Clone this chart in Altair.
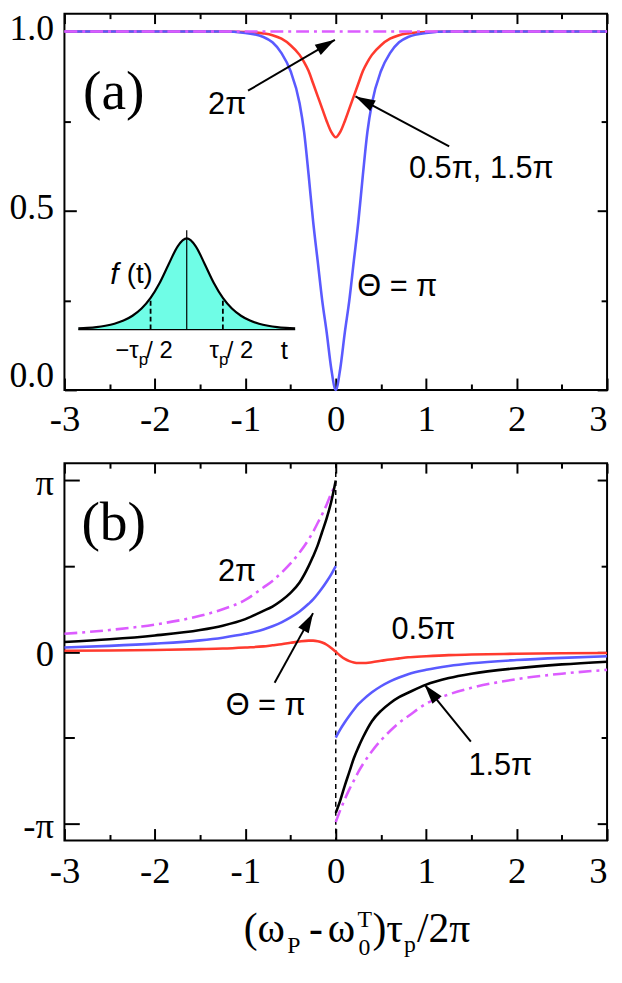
import math
import altair as alt
import pandas as pd

PI = math.pi

# ---------------- panel (a) data ----------------
xa = [-3.0, -2.5, -2.0, -1.5, -1.25, -1.0, -0.8, -0.7, -0.6, -0.5, -0.4, -0.35, -0.3, -0.25, -0.2, -0.15, -0.1, -0.05,
      0.0, 0.05, 0.1, 0.15, 0.2, 0.25, 0.3, 0.35, 0.4, 0.5, 0.6, 0.7, 0.8, 1.0, 1.25, 1.5, 2.0, 2.5, 3.0]
blue_a = [1.0, 1.0, 1.0, 1.0, 1.0, 0.996, 0.985, 0.97, 0.94, 0.89, 0.80, 0.72, 0.60, 0.47, 0.36, 0.25, 0.16, 0.06,
          0.0, 0.06, 0.16, 0.25, 0.36, 0.47, 0.60, 0.72, 0.80, 0.89, 0.94, 0.97, 0.985, 0.996, 1.0, 1.0, 1.0, 1.0, 1.0]
red_a = [1.0, 1.0, 1.0, 1.0, 1.0, 0.999, 0.995, 0.99, 0.98, 0.962, 0.935, 0.915, 0.89, 0.855, 0.82, 0.785, 0.75, 0.72,
         0.705, 0.72, 0.75, 0.785, 0.82, 0.855, 0.89, 0.915, 0.935, 0.962, 0.98, 0.99, 0.995, 0.999, 1.0, 1.0, 1.0, 1.0, 1.0]
xa_mag = [-3.0, 3.0]
mag_a = [1.0, 1.0]

# inset pulse f(t)
t_in = [-3.0, -2.75, -2.5, -2.25, -2.0, -1.75, -1.5, -1.25, -1.0, -0.75, -0.5, -0.25, 0.0,
        0.25, 0.5, 0.75, 1.0, 1.25, 1.5, 1.75, 2.0, 2.25, 2.5, 2.75, 3.0]
f_in = [0.012, 0.018, 0.027, 0.042, 0.064, 0.098, 0.151, 0.230, 0.347, 0.511, 0.717, 0.914, 1.0,
        0.914, 0.717, 0.511, 0.347, 0.230, 0.151, 0.098, 0.064, 0.042, 0.027, 0.018, 0.012]
t_dash = [-1.0, 1.0]
f_dash = [0.347, 0.347]
t_center = [0.0]
f_center = [1.09]

# ---------------- panel (b) data ----------------
xb_left = [-3.0, -2.5, -2.0, -1.5, -1.25, -1.0, -0.8, -0.7, -0.6, -0.5, -0.4, -0.3, -0.25, -0.2, -0.15, -0.1, -0.05, 0.0]
xb_right = [0.0, 0.05, 0.1, 0.15, 0.2, 0.25, 0.3, 0.4, 0.5, 0.6, 0.7, 0.8, 1.0, 1.25, 1.5, 2.0, 2.5, 3.0]
black_left = [0.18, 0.23, 0.30, 0.40, 0.48, 0.60, 0.75, 0.83, 0.94, 1.08, 1.27, 1.57, 1.75, 1.95, 2.20, 2.45, 2.75, 3.14]
black_right = [-2.95, -2.72, -2.45, -2.20, -1.95, -1.75, -1.57, -1.27, -1.08, -0.94, -0.83, -0.75, -0.60, -0.48, -0.40, -0.30, -0.23, -0.18]
blue_left = [0.08, 0.11, 0.15, 0.21, 0.26, 0.33, 0.41, 0.47, 0.54, 0.63, 0.74, 0.88, 0.96, 1.06, 1.17, 1.29, 1.42, 1.57]
blue_right = [-1.57, -1.42, -1.29, -1.17, -1.06, -0.96, -0.88, -0.74, -0.63, -0.54, -0.47, -0.41, -0.33, -0.26, -0.21, -0.15, -0.11, -0.08]
mag_left = [0.33, 0.40, 0.50, 0.66, 0.78, 0.95, 1.18, 1.30, 1.45, 1.62, 1.82, 2.06, 2.20, 2.36, 2.52, 2.70, 2.90, 3.07]
mag_right = [-3.12, -2.90, -2.70, -2.52, -2.36, -2.20, -2.06, -1.82, -1.62, -1.45, -1.30, -1.18, -0.95, -0.78, -0.66, -0.50, -0.40, -0.33]
xb_red = [-3.0, -2.5, -2.0, -1.5, -1.25, -1.0, -0.8, -0.7, -0.6, -0.5, -0.4, -0.3, -0.25, -0.2, -0.15, -0.1, -0.05, 0.0,
          0.05, 0.1, 0.15, 0.2, 0.25, 0.3, 0.4, 0.5, 0.6, 0.7, 0.8, 1.0, 1.25, 1.5, 2.0, 2.5, 3.0]
red_b = [0.02, 0.025, 0.035, 0.05, 0.06, 0.08, 0.10, 0.12, 0.14, 0.165, 0.19, 0.205, 0.205, 0.195, 0.17, 0.13, 0.07, 0.0,
         -0.07, -0.13, -0.17, -0.195, -0.205, -0.205, -0.19, -0.165, -0.14, -0.12, -0.10, -0.08, -0.06, -0.05, -0.035, -0.025, -0.02]

# annotations (data coordinates)
lab_a_x = [-1.2, 1.61, 0.68]
lab_a_y = [0.794, 0.617, 0.288]
lab_a_t = ["2π", "0.5π, 1.5π", "Θ = π"]
arr_a_tail = [(-0.97, 0.835), (1.254, 0.680)]
arr_a_head = [(-0.01, 0.977), (0.218, 0.819)]

lab_b_x = [-1.09, -0.775, 0.97, 1.82]
lab_b_y = [1.463, -0.996, 0.404, -2.09]
lab_b_t = ["2π", "Θ = π", "0.5π", "1.5π"]
arr_b_tail = [(-0.676, -0.566), (1.494, -1.643)]
arr_b_head = [(-0.251, 0.709), (0.982, -0.601)]

# ---------------- style ----------------
W, HA, HB = 548, 380, 381
XD = [-3, 3]
YA = [0, 1.05]
YB = [-1.1 * PI, 1.1 * PI]
SERIF = "Liberation Serif"
SANS = "Liberation Sans"
BLUE = "#5a5aff"
RED = "#ff3a2e"
MAG = "#dc5cff"
FILL = "#6ffde6"
HEAD = "M0,0L-0.6,2L0.6,2Z"
TICKFS = 36

xmaj = [-3, -2, -1, 0, 1, 2, 3]
xmin = [-2.5, -1.5, -0.5, 0.5, 1.5, 2.5]


def tick_axis(orient, values, size, labels=False, **kw):
    args = dict(orient=orient, values=values, tickSize=size, offset=-size, domain=False, grid=False,
                labels=labels, title=None, ticks=True, tickColor="black", tickWidth=2)
    if labels:
        args.update(kw)
    return alt.Axis(**args)


xlab_expr = "datum.value < 0 ? '-' + abs(datum.value) : '' + datum.value"
xlab_align = {"condition": {"test": "datum.value >= 3", "value": "right"}, "value": "center"}


def frame_layers(ydom, ymaj, ymin_, ymin_len):
    dd = pd.DataFrame({"x": XD, "y": ydom})
    base = alt.Chart(dd).mark_point(opacity=0, size=0)
    xsc = alt.Scale(domain=XD, nice=False, zero=False)
    ysc = alt.Scale(domain=ydom, nice=False, zero=False)
    l1 = base.encode(x=alt.X("x:Q", scale=xsc, axis=tick_axis("bottom", xmin, 6)),
                     y=alt.Y("y:Q", scale=ysc, axis=tick_axis("left", ymin_, ymin_len)))
    l2 = base.encode(x=alt.X("x:Q", scale=xsc, axis=tick_axis("top", xmaj, 10)),
                     y=alt.Y("y:Q", scale=ysc, axis=tick_axis("right", ymaj, 10)))
    l3 = base.encode(x=alt.X("x:Q", scale=xsc, axis=tick_axis("top", xmin, 5)),
                     y=alt.Y("y:Q", scale=ysc, axis=tick_axis("right", ymin_, 6)))
    return [l1, l2, l3]


def arrow_layers(tails, heads, X, Y, pxu, pyu):
    rows = []
    hrows = []
    for i, ((tx, ty), (hx, hy)) in enumerate(zip(tails, heads)):
        rows.append({"x": tx, "y": ty, "id": i})
        rows.append({"x": hx, "y": hy, "id": i})
        ang = math.degrees(math.atan2((hx - tx) * pxu, (hy - ty) * pyu)) % 360
        hrows.append({"x": hx, "y": hy, "ang": ang})
    shaft = alt.Chart(pd.DataFrame(rows)).mark_line(color="black", strokeWidth=2).encode(
        x=X("x"), y=Y("y"), detail="id:N")
    head = alt.Chart(pd.DataFrame(hrows)).mark_point(
        shape=HEAD, filled=True, color="black", opacity=1, size=400, strokeWidth=0).encode(
        x=X("x"), y=Y("y"), angle=alt.Angle("ang:Q", scale=None))
    return [shaft, head]


# ================= panel (a) =================
xsa = alt.Scale(domain=XD, nice=False, zero=False)
ysa = alt.Scale(domain=YA, nice=False, zero=False)
axa_x = tick_axis("bottom", xmaj, 12, labels=True, labelFont=SERIF, labelFontSize=TICKFS + 1, labelPadding=12,
                  labelExpr=xlab_expr, labelColor="black", labelFlush=False, labelAlign=xlab_align)
axa_y = tick_axis("left", [0, 0.5, 1.0], 12, labels=True, labelFont=SERIF, labelFontSize=TICKFS, labelPadding=11,
                  format=".1f", labelColor="black", labelOffset=-3,
                  labelBaseline={"condition": {"test": "datum.value == 0", "value": "alphabetic"}, "value": "middle"})


def XA(f):
    return alt.X(f"{f}:Q", scale=xsa, axis=axa_x)


def YA_(f):
    return alt.Y(f"{f}:Q", scale=ysa, axis=axa_y)


df_red_a = pd.DataFrame({"x": xa, "y": red_a})
df_blue_a = pd.DataFrame({"x": xa, "y": blue_a})
df_mag_a = pd.DataFrame({"x": xa_mag, "y": mag_a})

red_line_a = alt.Chart(df_red_a).mark_line(color=RED, strokeWidth=2.6, interpolate="monotone").encode(x=XA("x"), y=YA_("y"))
blue_line_a = alt.Chart(df_blue_a).mark_line(color=BLUE, strokeWidth=2.6, interpolate="monotone").encode(x=XA("x"), y=YA_("y"))
mag_line_a = alt.Chart(df_mag_a).mark_line(color=MAG, strokeWidth=2.6, strokeDash=[13, 5, 3, 5]).encode(x=XA("x"), y=YA_("y"))

panel_tag_a = alt.Chart(pd.DataFrame({"x": [-2.455], "y": [0.83], "t": ["(a)"]})).mark_text(
    font=SERIF, fontSize=56, color="black").encode(x=XA("x"), y=YA_("y"), text="t:N")
labels_a = alt.Chart(pd.DataFrame({"x": lab_a_x, "y": lab_a_y, "t": lab_a_t})).mark_text(
    font=SANS, fontSize=31, color="black").encode(x=XA("x"), y=YA_("y"), text="t:N")

core_a = alt.layer(red_line_a, blue_line_a, mag_line_a, panel_tag_a, labels_a,
                   *arrow_layers(arr_a_tail, arr_a_head, XA, YA_, W / 6, HA / 1.05))

# inset with its own scales
xin = alt.Scale(domain=[-3, 3], range=[14, 233], nice=False, zero=False)
yin = alt.Scale(domain=[0, 1], range=[319, 227], nice=False, zero=False)


def XI(f):
    return alt.X(f"{f}:Q", scale=xin, axis=None)


def YI(f):
    return alt.Y(f"{f}:Q", scale=yin, axis=None)


df_in = pd.DataFrame({"t": t_in, "f": f_in})
inset_area = alt.Chart(df_in).mark_area(color=FILL, opacity=1, interpolate="monotone").encode(x=XI("t"), y=YI("f"))
inset_line = alt.Chart(df_in).mark_line(color="black", strokeWidth=2.2, interpolate="monotone").encode(x=XI("t"), y=YI("f"))
inset_base = alt.Chart(pd.DataFrame({"t": [-3.0, 3.0], "f": [0.0, 0.0]})).mark_line(color="black", strokeWidth=1.2).encode(
    x=XI("t"), y=YI("f"))
inset_dash = alt.Chart(pd.DataFrame({"t": t_dash, "f": f_dash, "z": [0, 0]})).mark_rule(
    color="black", strokeWidth=1.8, strokeDash=[5, 3]).encode(x=XI("t"), y=YI("z"), y2="f:Q")
inset_mid = alt.Chart(pd.DataFrame({"t": t_center, "f": f_center, "z": [0]})).mark_rule(
    color="black", strokeWidth=1.2).encode(x=XI("t"), y=YI("z"), y2="f:Q")


def inset_text(txt, t, f, size=24, align="center", style="normal", font=SANS):
    return alt.Chart(pd.DataFrame({"t": [t], "f": [f], "s": [txt]})).mark_text(
        font=font, fontSize=size, align=align, fontStyle=style, baseline="middle", color="black").encode(
        x=XI("t"), y=YI("f"), text="s:N")


inset = alt.layer(
    inset_area, inset_line, inset_base, inset_dash, inset_mid,
    inset_text("f", -2.0, 0.60, size=30, style="italic"),
    inset_text("(t)", -1.3, 0.60, size=28),
    inset_text("−τ", -1.33, -0.237, align="right"),
    inset_text("p", -1.33, -0.34, size=17, align="left"),
    inset_text("/ 2", -1.12, -0.237, align="left"),
    inset_text("τ", 0.89, -0.237, align="right"),
    inset_text("p", 0.89, -0.34, size=17, align="left"),
    inset_text("/ 2", 1.11, -0.237, align="left"),
    inset_text("t", 2.70, -0.237, size=26),
)

panel_a = alt.layer(core_a, inset, *frame_layers(YA, [0, 0.5, 1.0], [0.25, 0.75], 6)).resolve_scale(
    x="independent", y="independent").properties(width=W, height=HA)

# ================= panel (b) =================
xsb = alt.Scale(domain=XD, nice=False, zero=False)
ysb = alt.Scale(domain=YB, nice=False, zero=False)
axb_x = tick_axis("bottom", xmaj, 12, labels=True, labelFont=SERIF, labelFontSize=TICKFS + 1, labelPadding=13,
                  labelExpr=xlab_expr, labelColor="black", labelFlush=False, labelAlign=xlab_align)
axb_y = tick_axis("left", [-PI, 0, PI], 15, labels=True, labelFont=SERIF, labelFontSize=TICKFS + 1, labelPadding=11,
                  labelExpr="datum.value > 1 ? 'π' : (datum.value < -1 ? '-π' : '0')", labelColor="black",
                  labelOffset=3)


def XB(f):
    return alt.X(f"{f}:Q", scale=xsb, axis=axb_x)


def YB_(f):
    return alt.Y(f"{f}:Q", scale=ysb, axis=axb_y)


def seg_df(xl, yl, xr, yr):
    return pd.DataFrame({"x": list(xl) + list(xr), "y": list(yl) + list(yr),
                         "seg": ["L"] * len(xl) + ["R"] * len(xr)})


vline = alt.Chart(pd.DataFrame({"x": [0.0]})).mark_rule(color="black", strokeWidth=1.5, strokeDash=[5, 4]).encode(x=XB("x"))
mag_b = alt.Chart(seg_df(xb_left, mag_left, xb_right, mag_right)).mark_line(
    color=MAG, strokeWidth=2.6, strokeDash=[13, 5, 3, 5], interpolate="monotone").encode(x=XB("x"), y=YB_("y"), detail="seg:N")
black_b = alt.Chart(seg_df(xb_left, black_left, xb_right, black_right)).mark_line(
    color="black", strokeWidth=2.6, interpolate="monotone").encode(x=XB("x"), y=YB_("y"), detail="seg:N")
blue_b = alt.Chart(seg_df(xb_left, blue_left, xb_right, blue_right)).mark_line(
    color=BLUE, strokeWidth=2.6, interpolate="monotone").encode(x=XB("x"), y=YB_("y"), detail="seg:N")
red_b_line = alt.Chart(pd.DataFrame({"x": xb_red, "y": red_b})).mark_line(
    color=RED, strokeWidth=2.6, interpolate="monotone").encode(x=XB("x"), y=YB_("y"))

panel_tag_b = alt.Chart(pd.DataFrame({"x": [-2.455], "y": [2.36], "t": ["(b)"]})).mark_text(
    font=SERIF, fontSize=56, color="black").encode(x=XB("x"), y=YB_("y"), text="t:N")
labels_b = alt.Chart(pd.DataFrame({"x": lab_b_x, "y": lab_b_y, "t": lab_b_t})).mark_text(
    font=SANS, fontSize=31, color="black").encode(x=XB("x"), y=YB_("y"), text="t:N")


def title_piece(txt, px, py, size=42):
    return alt.Chart(pd.DataFrame({"s": [txt]})).mark_text(
        font=SERIF, fontSize=size, align="left", baseline="alphabetic", color="black").encode(
        x=alt.value(px), y=alt.value(py), text="s:N")


TB = 484  # title baseline, relative to top of panel (b)
title = [
    title_piece("(ω", 181, TB),
    title_piece("P", 225, TB + 11, 24),
    title_piece("-", 247, TB),
    title_piece("ω", 266, TB),
    title_piece("T", 296, TB - 16, 24),
    title_piece("0", 297, TB + 13, 24),
    title_piece(")τ", 311, TB),
    title_piece("p", 343, TB + 10, 24),
    title_piece("/2π", 356, TB),
]

core_b = alt.layer(vline, mag_b, black_b, blue_b, red_b_line, panel_tag_b, labels_b,
                   *arrow_layers(arr_b_tail, arr_b_head, XB, YB_, W / 6, HB / (2.2 * PI)), *title)

panel_b = alt.layer(core_b, *frame_layers(YB, [-PI, 0, PI], [-PI / 2, PI / 2], 10)).resolve_scale(
    x="independent", y="independent").properties(width=W, height=HB)

chart = alt.vconcat(panel_a, panel_b, spacing=23).properties(
    padding={"left": 0, "top": -3, "right": 0, "bottom": -5}
).configure_view(stroke="black", strokeWidth=2)

chart.save("out.html", embed_options={"renderer": "svg", "actions": False})
